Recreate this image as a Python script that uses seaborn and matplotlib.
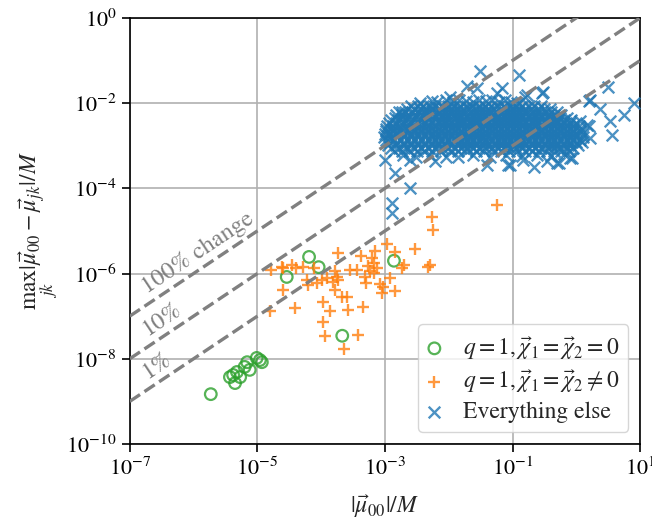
import numpy as np
import matplotlib
matplotlib.use("Agg")
import matplotlib.pyplot as plt
import seaborn as sns

# values are log10 of |mu_00|/M (x) and max_jk |mu_00 - mu_jk|/M (y)
green_logx = [-5.73, -5.43, -5.38, -5.35, -5.32, -5.27, -5.20, -5.16, -5.12, -5.01,
              -4.96, -4.93, -4.19, -4.04, -4.54, -2.86, -3.67]
green_logy = [-8.83, -8.43, -8.38, -8.57, -8.31, -8.43, -8.19, -8.08, -8.26, -7.98,
              -8.03, -8.08, -5.61, -5.85, -6.08, -5.70, -7.46]

orange_logx = [-2.27, -2.25, -2.97, -2.84, -2.53, -3.16, -3.73, -3.37, -3.21, -3.18,
               -3.26, -3.13, -2.71, -2.74, -2.29, -2.32, -4.46, -4.28, -4.12, -4.78,
               -4.60, -4.39, -3.55, -3.44, -3.78, -3.76, -3.91, -3.99, -4.07, -4.20,
               -4.23, -3.81, -3.73, -2.92, -3.08, -3.29, -3.03, -3.05, -2.84, -3.78,
               -4.60, -3.68, -3.60, -3.97, -3.86, -3.58, -3.34, -4.41, -4.80, -3.97,
               -3.94, -3.42, -3.65, -3.24, -3.18, -3.31, -1.24, -4.61]
orange_logy = [-4.68, -4.98, -5.31, -5.49, -5.42, -5.46, -5.52, -5.59, -5.64, -5.76,
               -5.82, -5.88, -5.80, -5.88, -5.80, -5.85, -5.80, -5.84, -5.88, -5.92,
               -5.88, -5.88, -5.92, -5.92, -5.95, -6.07, -6.11, -6.15, -6.23, -6.27,
               -6.15, -6.19, -6.15, -6.10, -6.24, -6.23, -6.31, -6.46, -6.42, -6.38,
               -6.38, -6.56, -6.54, -6.66, -6.89, -6.85, -6.78, -6.81, -6.89, -7.13,
               -7.46, -7.44, -7.78, -5.95, -5.99, -6.07, -4.39, -5.85]

# "everything else": scattered points around the dense cloud
blue_logx = [-1.51, -0.90, -1.72, -1.56, -1.17, -1.25, -0.78, -0.54, 0.50, 0.90,
             0.74, 0.37, 0.22, 0.53, 0.56, 0.22, 0.16, -2.74, -2.92, -3.00,
             -2.84, -1.40, -1.04, -0.67, -0.31, -0.10, -1.85, -2.22, -2.61, -1.98,
             -2.27, -2.45, -2.61, -2.89, -2.89, -0.52, -0.80, 0.19, 0.06, 0.19,
             -0.07, -0.28, -0.46, -0.83, -1.07,
             -2.18, -2.05, -1.93, -1.84, -1.73, -1.62, -1.52, -1.42, -1.33, -1.22,
             -1.12, -1.02, -0.93, -2.72, -2.52, -2.30, -2.05, -1.62, -1.35, -1.10,
             -0.85, -0.62, -0.40, -0.20]
blue_logy = [-1.24, -1.34, -1.60, -1.65, -1.65, -1.77, -1.81, -1.77, -1.63, -1.99,
             -2.28, -2.14, -1.92, -2.43, -2.75, -2.82, -2.51, -2.20, -2.71, -3.33,
             -3.65, -3.45, -3.45, -3.49, -3.41, -3.29, -3.26, -3.37, -3.33, -1.85,
             -1.96, -2.00, -4.00, -4.35, -4.58, -1.73, -1.85, -1.96, -2.43, -2.55,
             -3.29, -3.41, -3.37, -3.33, -3.45,
             -1.98, -1.94, -1.97, -1.92, -1.95, -1.98, -1.93, -1.96, -1.92, -1.97,
             -1.94, -1.98, -2.00, -3.22, -3.26, -3.21, -3.27, -3.23, -3.26, -3.22,
             -3.25, -3.21, -3.24, -3.20]

# dense core of the cloud, read row by row
core_row_logy = [-2.08, -2.145, -2.21, -2.275, -2.34, -2.405, -2.47, -2.535,
                 -2.60, -2.665, -2.73, -2.795, -2.86, -2.925, -2.99, -3.055, -3.12]
core_row_logx = [
    [-2.60, -2.49, -2.40, -2.30, -2.21, -2.11, -2.01, -1.92, -1.82, -1.72, -1.63,
     -1.53, -1.43, -1.34, -1.24, -1.14, -1.04, -0.95, -0.85, -0.75, -0.66, -0.56],
    [-2.65, -2.55, -2.45, -2.35, -2.26, -2.16, -2.06, -1.97, -1.87, -1.77, -1.68,
     -1.58, -1.48, -1.39, -1.29, -1.19, -1.09, -1.00, -0.90, -0.80, -0.71, -0.61,
     -0.51, -0.42],
    [-2.78, -2.69, -2.58, -2.47, -2.36, -2.26, -2.16, -2.06, -1.96, -1.87, -1.77,
     -1.67, -1.58, -1.48, -1.38, -1.28, -1.19, -1.09, -0.99, -0.90, -0.80, -0.70,
     -0.60, -0.50, -0.40, -0.31],
    [-2.82, -2.73, -2.63, -2.52, -2.41, -2.31, -2.21, -2.11, -2.01, -1.92, -1.82,
     -1.72, -1.62, -1.53, -1.43, -1.33, -1.24, -1.14, -1.04, -0.94, -0.85, -0.75,
     -0.65, -0.55, -0.45, -0.35, -0.24],
    [-2.85, -2.74, -2.64, -2.53, -2.43, -2.32, -2.21, -2.11, -2.01, -1.91, -1.82,
     -1.72, -1.62, -1.53, -1.43, -1.33, -1.24, -1.14, -1.04, -0.94, -0.85, -0.75,
     -0.65, -0.55, -0.45, -0.35, -0.25, -0.15],
    [-2.90, -2.79, -2.68, -2.58, -2.47, -2.37, -2.27, -2.16, -2.06, -1.96, -1.86,
     -1.77, -1.67, -1.57, -1.48, -1.38, -1.28, -1.19, -1.09, -0.99, -0.90, -0.80,
     -0.70, -0.60, -0.50, -0.40, -0.30, -0.20, -0.09],
    [-2.94, -2.82, -2.70, -2.59, -2.48, -2.37, -2.27, -2.16, -2.06, -1.96, -1.86,
     -1.77, -1.67, -1.57, -1.48, -1.38, -1.28, -1.19, -1.09, -0.99, -0.90, -0.80,
     -0.70, -0.60, -0.50, -0.40, -0.30, -0.20, -0.10, 0.00],
    [-2.97, -2.87, -2.76, -2.65, -2.54, -2.43, -2.32, -2.22, -2.11, -2.01, -1.91,
     -1.81, -1.72, -1.62, -1.52, -1.43, -1.33, -1.23, -1.14, -1.04, -0.94, -0.85,
     -0.75, -0.65, -0.55, -0.45, -0.35, -0.25, -0.15, -0.05, 0.04],
    [-2.99, -2.88, -2.76, -2.65, -2.54, -2.43, -2.32, -2.22, -2.11, -2.01, -1.91,
     -1.81, -1.72, -1.62, -1.52, -1.43, -1.33, -1.23, -1.14, -1.04, -0.94, -0.85,
     -0.75, -0.65, -0.55, -0.45, -0.35, -0.25, -0.15, -0.05, 0.06],
    [-2.98, -2.87, -2.76, -2.64, -2.54, -2.43, -2.33, -2.22, -2.12, -2.01, -1.91,
     -1.81, -1.72, -1.62, -1.52, -1.43, -1.33, -1.23, -1.14, -1.04, -0.94, -0.85,
     -0.75, -0.65, -0.55, -0.45, -0.35, -0.25, -0.15, -0.05, 0.05],
    [-3.00, -2.93, -2.82, -2.70, -2.59, -2.48, -2.38, -2.27, -2.17, -2.06, -1.96,
     -1.86, -1.76, -1.67, -1.57, -1.47, -1.38, -1.28, -1.18, -1.09, -0.99, -0.89,
     -0.80, -0.70, -0.60, -0.50, -0.40, -0.30, -0.20, -0.10, 0.00, 0.10],
    [-3.02, -2.90, -2.81, -2.70, -2.59, -2.48, -2.38, -2.27, -2.17, -2.06, -1.96,
     -1.86, -1.76, -1.67, -1.57, -1.47, -1.38, -1.28, -1.18, -1.09, -0.99, -0.89,
     -0.80, -0.70, -0.60, -0.50, -0.40, -0.30, -0.20, -0.10, 0.00, 0.11],
    [-2.98, -2.87, -2.76, -2.65, -2.54, -2.43, -2.33, -2.22, -2.12, -2.01, -1.91,
     -1.81, -1.72, -1.62, -1.52, -1.43, -1.33, -1.23, -1.14, -1.04, -0.94, -0.85,
     -0.75, -0.65, -0.55, -0.45, -0.35, -0.25, -0.15, -0.05, 0.06],
    [-2.92, -2.81, -2.70, -2.59, -2.48, -2.38, -2.27, -2.17, -2.06, -1.96, -1.86,
     -1.76, -1.67, -1.57, -1.47, -1.38, -1.28, -1.18, -1.09, -0.99, -0.89, -0.80,
     -0.70, -0.60, -0.50, -0.40, -0.30, -0.20, -0.10, 0.00, 0.08],
    [-2.95, -2.82, -2.70, -2.59, -2.48, -2.38, -2.27, -2.17, -2.06, -1.96, -1.86,
     -1.76, -1.67, -1.57, -1.47, -1.38, -1.28, -1.18, -1.09, -0.99, -0.89, -0.80,
     -0.70, -0.60, -0.50, -0.40, -0.30, -0.20, -0.10, 0.02],
    [-2.90, -2.78, -2.66, -2.55, -2.44, -2.33, -2.22, -2.11, -2.01, -1.91, -1.81,
     -1.72, -1.62, -1.52, -1.43, -1.33, -1.23, -1.14, -1.04, -0.94, -0.85, -0.75,
     -0.65, -0.55, -0.45, -0.35, -0.25, -0.15, -0.05],
    [-2.86, -2.74, -2.62, -2.50, -2.39, -2.27, -2.13, -1.98, -1.85, -1.72, -1.58,
     -1.45, -1.30, -1.18, -1.05, -0.93, -0.81, -0.70, -0.58, -0.46, -0.35, -0.24,
     -0.12],
]

change_levels = [1.0, 0.1, 0.01]
change_labels = ["100% change", "10%", "1%"]

labels = [r"$q=1,\vec{\chi}_1=\vec{\chi}_2=0$",
          r"$q=1,\vec{\chi}_1=\vec{\chi}_2\neq 0$",
          "Everything else"]

sns.set_style("ticks")
plt.rcParams["font.family"] = ["STIXGeneral", "DejaVu Serif"]
plt.rcParams["mathtext.fontset"] = "stix"
plt.rcParams["font.size"] = 17

fig, ax = plt.subplots(figsize=(6.52, 5.23), dpi=100)
fig.subplots_adjust(left=0.199, right=0.982, bottom=0.151, top=0.966)

bx = list(blue_logx)
by = list(blue_logy)
for ly, row in zip(core_row_logy, core_row_logx):
    bx += row
    by += [ly] * len(row)

sns.scatterplot(x=10 ** np.array(green_logx), y=10 ** np.array(green_logy),
                marker="o", s=70, facecolor="none", edgecolor="#2ca02c",
                linewidth=1.6, alpha=0.8, label=labels[0], ax=ax, zorder=3)
sns.scatterplot(x=10 ** np.array(orange_logx), y=10 ** np.array(orange_logy),
                marker="+", s=70, color="#ff7f0e", linewidth=1.7, alpha=0.8,
                label=labels[1], ax=ax, zorder=3)
sns.scatterplot(x=10 ** np.array(bx), y=10 ** np.array(by),
                marker="x", s=70, color="#1f77b4", linewidth=1.7, alpha=0.8,
                label=labels[2], ax=ax, zorder=3)

ax.set_xscale("log")
ax.set_yscale("log")
ax.set_xlim(1e-7, 1e1)
ax.set_ylim(1e-10, 1e0)

ref = np.array([1e-7, 1e1])
pos = ax.get_position()
w_px = pos.width * 652
h_px = pos.height * 523
angle = np.degrees(np.arctan2(h_px / 10, w_px / 8))
for frac, txt in zip(change_levels, change_labels):
    ax.plot(ref, frac * ref, "--", color="gray", lw=2.4, zorder=4)
    ax.text(10 ** -6.72, 10 ** (-6.72 + 0.25) * frac, txt, rotation=angle,
            rotation_mode="anchor", ha="left", va="baseline", color="gray",
            fontsize=17.5)

ax.set_xticks([1e-7, 1e-5, 1e-3, 1e-1, 1e1])
ax.set_yticks([1e0, 1e-2, 1e-4, 1e-6, 1e-8, 1e-10])
ax.minorticks_off()
ax.grid(True, which="major", color="#b0b0b0", lw=1.2)
ax.set_axisbelow(True)
ax.tick_params(direction="out", length=6, width=1.2, colors="black",
               labelsize=16)
for sp in ax.spines.values():
    sp.set_color("black")
    sp.set_linewidth(1.2)

ax.set_xlabel(r"$|\vec{\mu}_{00}|/M$", labelpad=9)
ax.set_ylabel(r"$\underset{jk}{\max}|\vec{\mu}_{00}-\vec{\mu}_{jk}|/M$")

ax.legend(loc="lower right", handlelength=0.6, handletextpad=0.9,
          borderpad=0.4, labelspacing=0.25, fontsize=17)

fig.savefig("out.png", dpi=100)
